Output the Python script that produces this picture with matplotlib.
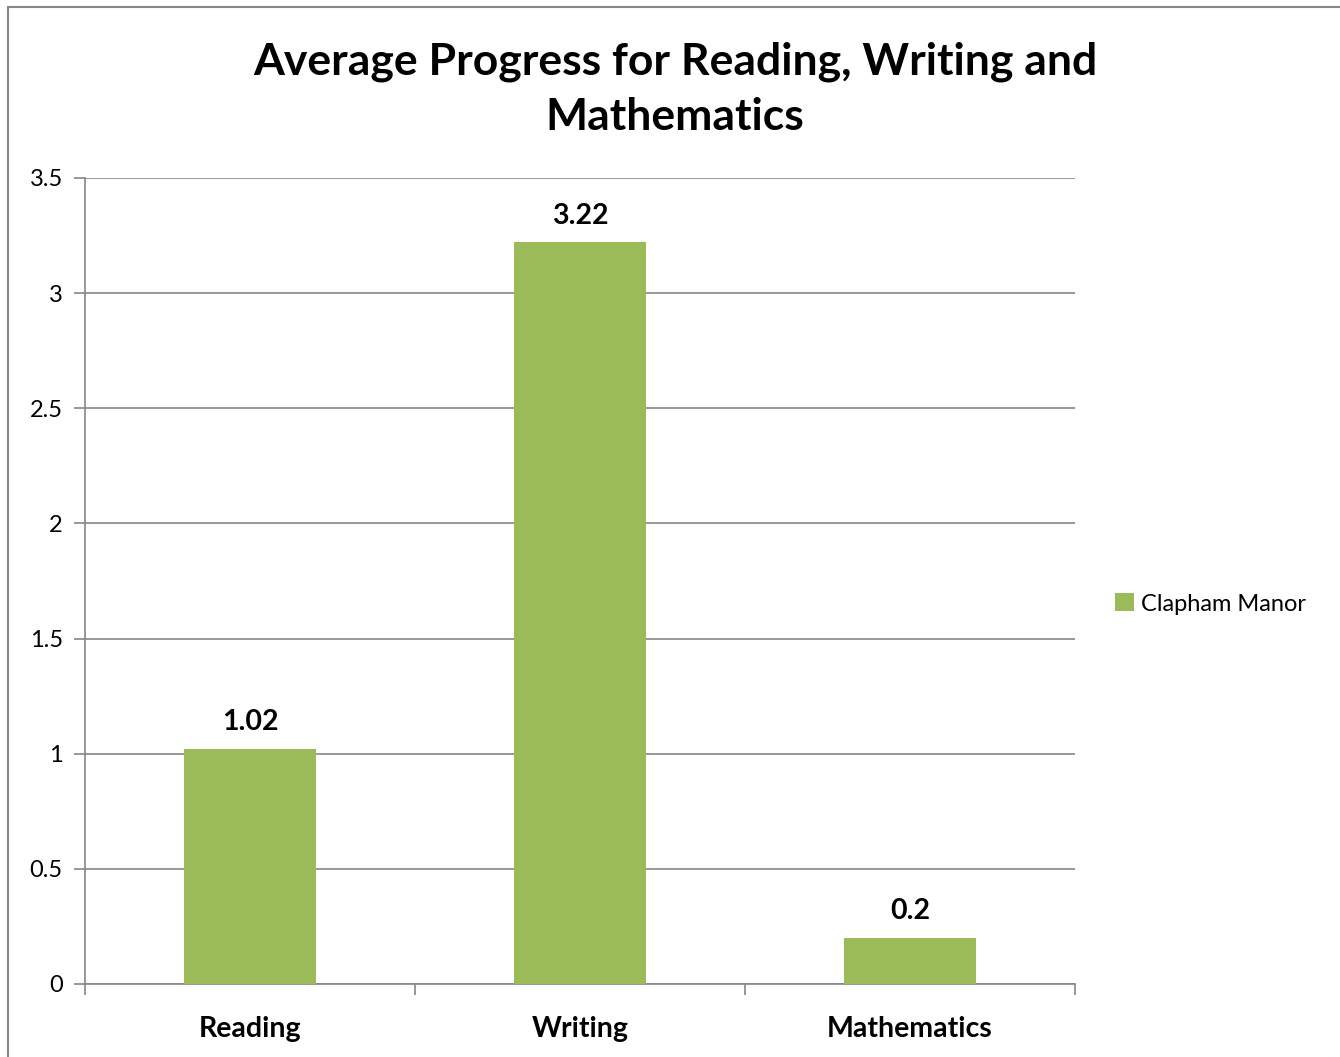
import matplotlib.pyplot as plt
from matplotlib.patches import Rectangle

categories = ["Reading", "Writing", "Mathematics"]
values = [1.02, 3.22, 0.2]
series_name = "Clapham Manor"
yticks = [0, 0.5, 1, 1.5, 2, 2.5, 3, 3.5]

green = "#9BBB59"
grey = "#868686"

plt.rcParams['font.family'] = ['Lato', 'DejaVu Sans']

W, H = 1340, 1057
fig = plt.figure(figsize=(W / 100, H / 100), dpi=100)

# outer chart border
fig.patches.append(Rectangle((8 / W, -0.01), 1.1, 1 - 7 / H + 0.01, transform=fig.transFigure,
                             fill=False, edgecolor=grey, linewidth=1.5))

ax = fig.add_axes([85 / W, 1 - 984 / H, (1075 - 85) / W, (984 - 178) / H])

x = range(len(categories))
bars = ax.bar(x, values, width=0.4, color=green, label=series_name, zorder=3)

for xi, v in zip(x, values):
    ax.annotate(f"{v:g}", (xi, v), xytext=(0, 10), textcoords="offset points",
                ha="center", va="bottom", fontsize=20.5, fontweight="bold")

ax.set_xlim(-0.5, len(categories) - 0.5)
ax.set_ylim(0, 3.5)
ax.set_yticks(yticks)
ax.set_yticklabels([f"{t:g}" for t in yticks], fontsize=17)
ax.yaxis.grid(True, color=grey, linewidth=1.2, zorder=0)
ax.tick_params(axis="y", length=8, width=1.2, color=grey, pad=8)

ax.set_xticks([i - 0.5 for i in range(len(categories) + 1)])
ax.set_xticklabels([])
ax.set_xticks(list(x), minor=True)
ax.set_xticklabels(categories, minor=True, fontsize=20.5, fontweight="bold")
ax.tick_params(axis="x", which="major", length=8, width=1.2, color=grey)
ax.tick_params(axis="x", which="minor", length=0, pad=23)

for s in ["top", "right"]:
    ax.spines[s].set_visible(False)
for s in ["left", "bottom"]:
    ax.spines[s].set_color(grey)
    ax.spines[s].set_linewidth(1.2)

fig.text(675 / W, 1 - 89 / H, "Average Progress for Reading, Writing and\nMathematics",
         ha="center", va="center", fontsize=32, fontweight="bold", linespacing=1.45)

fig.legend(handles=[bars], labels=[series_name], loc="center left",
           bbox_to_anchor=(1094 / W, 1 - 604 / H), frameon=False, fontsize=17,
           handlelength=0.8, handleheight=0.8, handletextpad=0.3)

fig.savefig("out.png", dpi=100)
